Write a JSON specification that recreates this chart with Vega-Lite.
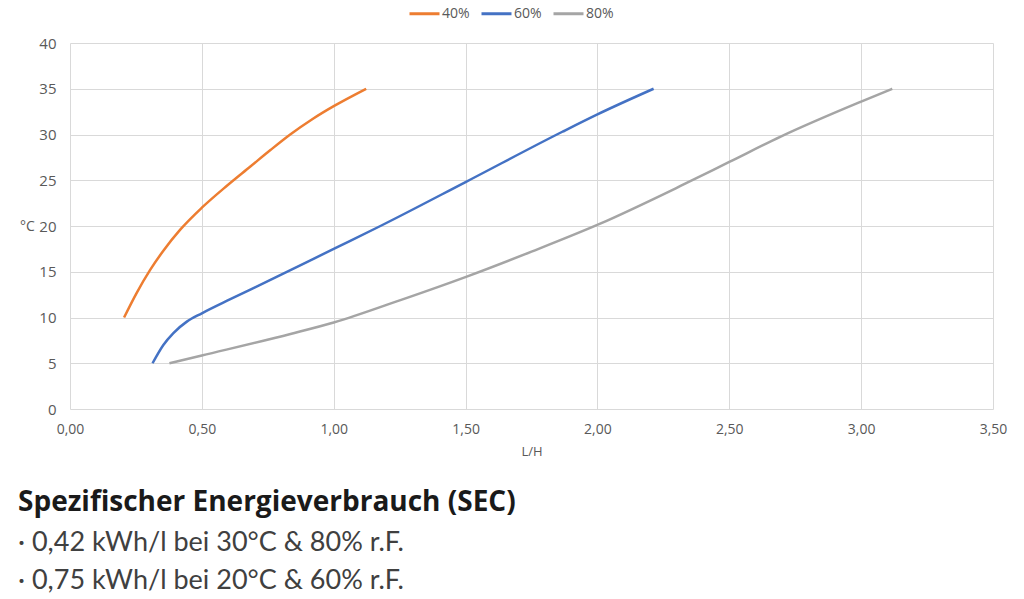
{
  "$schema": "https://vega.github.io/schema/vega-lite/v6.json",
  "autosize": "none",
  "width": 923,
  "height": 366,
  "padding": {"left": 70, "top": 43, "right": 31, "bottom": 190},
  "background": "white",
  "config": {
    "view": {"stroke": "transparent"},
    "font": "Open Sans"
  },
  "title": {
    "text": "Spezifischer Energieverbrauch (SEC)",
    "subtitle": ["· 0,42 kWh/l bei 30°C & 80% r.F.", "· 0,75 kWh/l bei 20°C & 60% r.F."],
    "orient": "bottom",
    "anchor": "start",
    "frame": "group",
    "dx": -52,
    "offset": 31,
    "font": "Open Sans",
    "fontSize": 28,
    "fontWeight": "bold",
    "color": "#1a1a1a",
    "subtitleFont": "Lato",
    "subtitleFontSize": 27,
    "subtitleColor": "#404040",
    "subtitleLineHeight": 38,
    "subtitlePadding": 13
  },
  "data": {
    "values": [
      {"rf": "40%", "x": 0.205, "y": 10},
      {"rf": "40%", "x": 0.253, "y": 12.7},
      {"rf": "40%", "x": 0.304, "y": 15.2},
      {"rf": "40%", "x": 0.354, "y": 17.3},
      {"rf": "40%", "x": 0.418, "y": 19.6},
      {"rf": "40%", "x": 0.5, "y": 22.0},
      {"rf": "40%", "x": 0.595, "y": 24.4},
      {"rf": "40%", "x": 0.684, "y": 26.5},
      {"rf": "40%", "x": 0.76, "y": 28.3},
      {"rf": "40%", "x": 0.835, "y": 30},
      {"rf": "40%", "x": 0.92, "y": 31.7},
      {"rf": "40%", "x": 1.0, "y": 33.1},
      {"rf": "40%", "x": 1.123, "y": 35},
      {"rf": "60%", "x": 0.313, "y": 5},
      {"rf": "60%", "x": 0.354, "y": 7.0},
      {"rf": "60%", "x": 0.392, "y": 8.3},
      {"rf": "60%", "x": 0.443, "y": 9.55},
      {"rf": "60%", "x": 0.5, "y": 10.46},
      {"rf": "60%", "x": 0.608, "y": 12.0},
      {"rf": "60%", "x": 0.76, "y": 14.1},
      {"rf": "60%", "x": 1.0, "y": 17.5},
      {"rf": "60%", "x": 1.177, "y": 20.0},
      {"rf": "60%", "x": 1.5, "y": 24.8},
      {"rf": "60%", "x": 1.867, "y": 30.3},
      {"rf": "60%", "x": 2.0, "y": 32.2},
      {"rf": "60%", "x": 2.213, "y": 35},
      {"rf": "80%", "x": 0.377, "y": 5},
      {"rf": "80%", "x": 0.5, "y": 5.85},
      {"rf": "80%", "x": 0.836, "y": 8.2},
      {"rf": "80%", "x": 1.0, "y": 9.45},
      {"rf": "80%", "x": 1.253, "y": 11.9},
      {"rf": "80%", "x": 1.507, "y": 14.5},
      {"rf": "80%", "x": 1.75, "y": 17.2},
      {"rf": "80%", "x": 2.006, "y": 20.2},
      {"rf": "80%", "x": 2.317, "y": 24.4},
      {"rf": "80%", "x": 2.5, "y": 27.0},
      {"rf": "80%", "x": 2.697, "y": 29.8},
      {"rf": "80%", "x": 3.0, "y": 33.6},
      {"rf": "80%", "x": 3.118, "y": 35}
    ]
  },
  "mark": {"type": "line", "strokeWidth": 2.5, "interpolate": "monotone"},
  "encoding": {
    "x": {
      "field": "x",
      "type": "quantitative",
      "scale": {"domain": [0, 3.5], "nice": false, "zero": false},
      "axis": {
        "title": "L/H",
        "values": [0, 0.5, 1, 1.5, 2, 2.5, 3, 3.5],
        "labelExpr": "replace(format(datum.value, '.2f'), '.', ',')",
        "labelFlush": false,
        "domain": false,
        "ticks": false,
        "grid": true,
        "gridColor": "#d9d9d9",
        "labelPadding": 13,
        "labelFontSize": 14,
        "labelColor": "#595959",
        "titleFontSize": 13,
        "titleFontWeight": "normal",
        "titleColor": "#595959",
        "titlePadding": 9
      }
    },
    "y": {
      "field": "y",
      "type": "quantitative",
      "scale": {"domain": [0, 40], "nice": false},
      "axis": {
        "title": "°C",
        "titleAngle": 0,
        "titleX": -43,
        "titleY": 183,
        "titleAlign": "center",
        "titleBaseline": "middle",
        "titleFontSize": 14,
        "titleFontWeight": "normal",
        "titleColor": "#595959",
        "values": [0, 5, 10, 15, 20, 25, 30, 35, 40],
        "labelFlush": false,
        "domain": false,
        "ticks": false,
        "grid": true,
        "gridColor": "#d9d9d9",
        "labelPadding": 14,
        "labelFontSize": 15,
        "labelColor": "#595959"
      }
    },
    "color": {
      "field": "rf",
      "type": "nominal",
      "scale": {"domain": ["40%", "60%", "80%"], "range": ["#ED7D31", "#4472C4", "#A5A5A5"]},
      "legend": {
        "title": null,
        "orient": "none",
        "direction": "horizontal",
        "legendX": 338,
        "legendY": -46,
        "symbolType": "stroke",
        "symbolSize": 900,
        "symbolStrokeWidth": 3,
        "labelFontSize": 14,
        "labelColor": "#595959",
        "labelOffset": 1,
        "columnPadding": 5
      }
    }
  }
}
